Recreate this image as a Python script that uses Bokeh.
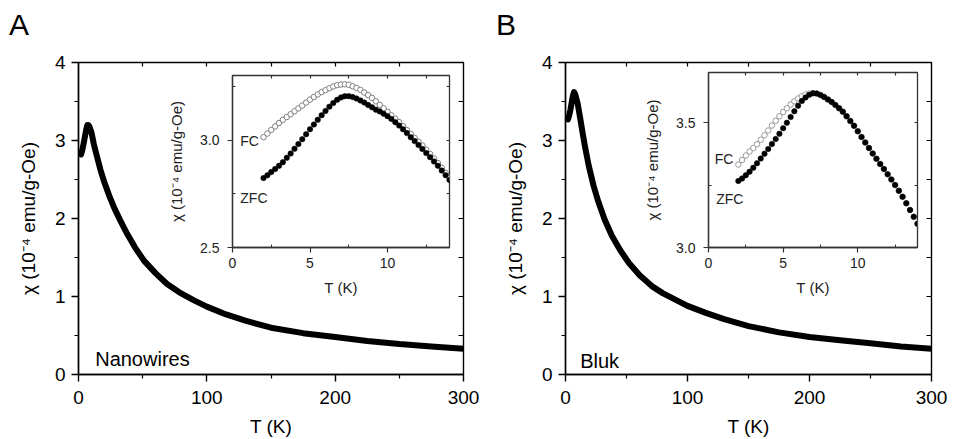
from bokeh.plotting import figure
from bokeh.layouts import row
from bokeh.models import (LinearAxis, FixedTicker, Label, Range1d, PrintfTickFormatter, Div)
from bokeh.embed import file_html
from bokeh.resources import INLINE

FONT = "Liberation Sans"

# ---------------- data ----------------
# Panel A main curve (Nanowires)
tA = [2, 3, 4, 5, 6, 7, 7.5, 8.5, 10, 12, 14.5, 17, 20, 24, 28, 33, 38, 44, 51, 60,
      69, 80, 90, 100, 115, 130, 150, 175, 200, 225, 250, 275, 300]
chiA = [2.82, 2.88, 2.96, 3.05, 3.14, 3.20, 3.20, 3.18, 3.11, 2.95, 2.79, 2.63, 2.47,
        2.29, 2.13, 1.96, 1.80, 1.63, 1.46, 1.30, 1.16, 1.04, 0.95, 0.87, 0.77, 0.69,
        0.60, 0.53, 0.48, 0.43, 0.39, 0.36, 0.33]

# Panel B main curve (Bluk)
tB = [2, 3, 4, 5, 6, 7, 8, 10, 12, 14, 16, 19, 23, 27, 32, 38, 45, 52, 61, 71, 80,
      90, 100, 115, 130, 150, 175, 200, 225, 250, 275, 300]
chiB = [3.27, 3.32, 3.39, 3.48, 3.57, 3.62, 3.59, 3.47, 3.29, 3.10, 2.92, 2.68, 2.42,
        2.21, 1.99, 1.78, 1.59, 1.43, 1.27, 1.13, 1.04, 0.96, 0.88, 0.79, 0.71, 0.62,
        0.54, 0.48, 0.44, 0.40, 0.36, 0.33]

# Inset temperatures (K)
t_in = [2.00, 2.25, 2.50, 2.75, 3.00, 3.25, 3.50, 3.75, 4.00, 4.25, 4.50, 4.75, 5.00,
        5.25, 5.50, 5.75, 6.00, 6.25, 6.50, 6.75, 7.00, 7.25, 7.50, 7.75, 8.00, 8.25,
        8.50, 8.75, 9.00, 9.25, 9.50, 9.75, 10.00, 10.25, 10.50, 10.75, 11.00, 11.25,
        11.50, 11.75, 12.00, 12.25, 12.50, 12.75, 13.00, 13.25, 13.50, 13.75, 14.00]

# Inset A
fcA = [3.013, 3.030, 3.047, 3.063, 3.079, 3.094, 3.107, 3.120, 3.134, 3.147, 3.160,
       3.174, 3.188, 3.200, 3.212, 3.223, 3.232, 3.241, 3.249, 3.255, 3.258, 3.259,
       3.257, 3.250, 3.242, 3.233, 3.221, 3.209, 3.196, 3.180, 3.163, 3.147, 3.131,
       3.115, 3.099, 3.083, 3.064, 3.046, 3.028, 3.010, 2.992, 2.974, 2.955, 2.935,
       2.914, 2.893, 2.871, 2.847, 2.824]
zfcA = [2.823, 2.836, 2.851, 2.865, 2.880, 2.897, 2.917, 2.937, 2.959, 2.981, 3.004,
        3.027, 3.050, 3.072, 3.094, 3.115, 3.135, 3.155, 3.172, 3.187, 3.198, 3.204,
        3.204, 3.200, 3.193, 3.184, 3.174, 3.163, 3.152, 3.141, 3.133, 3.122, 3.111,
        3.098, 3.083, 3.067, 3.050, 3.032, 3.013, 2.995, 2.977, 2.958, 2.939, 2.920,
        2.900, 2.880, 2.858, 2.836, 2.814]

# Inset B
fcB = [3.332, 3.350, 3.368, 3.384, 3.398, 3.413, 3.431, 3.449, 3.468, 3.488, 3.507,
       3.525, 3.542, 3.557, 3.572, 3.585, 3.596, 3.605, 3.612, 3.616, 3.617, 3.616,
       3.610, 3.602, 3.592, 3.582, 3.570, 3.557, 3.543, 3.525, 3.506, 3.487, 3.465,
       3.442, 3.420, 3.398, 3.376, 3.355, 3.334, 3.314, 3.293, 3.272, 3.250, 3.227,
       3.203, 3.177, 3.150, 3.123, 3.095]
zfcB = [3.266, 3.276, 3.289, 3.303, 3.319, 3.337, 3.356, 3.375, 3.394, 3.414, 3.434,
        3.455, 3.477, 3.499, 3.522, 3.545, 3.567, 3.586, 3.600, 3.611, 3.617, 3.616,
        3.610, 3.602, 3.592, 3.582, 3.570, 3.557, 3.543, 3.525, 3.506, 3.487, 3.465,
        3.442, 3.420, 3.398, 3.376, 3.355, 3.334, 3.314, 3.293, 3.272, 3.250, 3.227,
        3.203, 3.177, 3.150, 3.123, 3.095]

main_xticks = [0, 100, 200, 300]
main_xminor = [50, 150, 250]
main_yticks = [0, 1, 2, 3, 4]
main_yminor = [0.5, 1.5, 2.5, 3.5]
ylabel = "χ (10⁻⁴ emu/g-Oe)"
xlabel = "T (K)"
panel_letters = ["A", "B"]


def blank_axis(ticks, tick_len, color):
    ax = LinearAxis(ticker=FixedTicker(ticks=ticks, minor_ticks=[]),
                    major_tick_in=tick_len, major_tick_out=0,
                    major_label_overrides={t: "" for t in ticks},
                    major_label_text_font_size="0px",
                    major_label_standoff=0,
                    axis_line_color=None, major_tick_line_color=color,
                    major_tick_line_width=1.2, minor_tick_line_color=None)
    return ax


def main_fig(t, chi, label_text, label_x, label_y, fw, left, right):
    p = figure(frame_width=fw, frame_height=312, min_border_left=left,
               min_border_right=right, min_border_top=60, min_border_bottom=67,
               x_range=Range1d(0, 300), y_range=Range1d(0, 4), title=None,
               output_backend="svg", toolbar_location=None,
               x_axis_location=None, y_axis_location=None)
    p.grid.visible = False
    p.background_fill_color = "white"
    p.border_fill_color = "white"
    p.outline_line_color = "black"
    p.outline_line_width = 1.4

    xa = LinearAxis(ticker=FixedTicker(ticks=main_xticks, minor_ticks=main_xminor),
                    axis_label=xlabel)
    ya = LinearAxis(ticker=FixedTicker(ticks=main_yticks, minor_ticks=main_yminor),
                    axis_label=ylabel)
    for ax in (xa, ya):
        ax.axis_line_color = "black"
        ax.axis_line_width = 1.4
        ax.major_tick_out = 7
        ax.major_tick_in = 0
        ax.minor_tick_out = 4
        ax.minor_tick_in = 0
        ax.major_tick_line_width = 1.4
        ax.minor_tick_line_width = 1.2
        ax.major_tick_line_color = "black"
        ax.minor_tick_line_color = "black"
        ax.major_label_text_font = FONT
        ax.major_label_text_font_size = "19px"
        ax.major_label_text_color = "black"
        ax.axis_label_text_font = FONT
        ax.axis_label_text_font_size = "19px"
        ax.axis_label_text_font_style = "normal"
        ax.axis_label_text_color = "black"
    xa.major_label_standoff = 9
    xa.axis_label_standoff = 9
    ya.major_label_standoff = 6
    ya.axis_label_standoff = 13
    p.add_layout(xa, "below")
    p.add_layout(ya, "left")
    p.add_layout(blank_axis([50, 100, 150, 200, 250], 4, "black"), "above")
    p.add_layout(blank_axis([0.5, 1, 1.5, 2, 2.5, 3, 3.5], 5, "black"), "right")

    p.line(t, chi, line_color="black", line_width=6, line_join="round", line_cap="round")
    p.add_layout(Label(x=label_x, y=label_y, text=label_text, text_font=FONT,
                       text_font_size="20px", text_baseline="alphabetic",
                       text_color="black"))
    return p


def inset_fig(fc, zfc, y0, y1, yticks, yminor, rticks, fw, fh, left,
              fc_lab, zfc_lab, fc_color):
    p = figure(frame_width=fw, frame_height=fh, min_border_left=left,
               min_border_right=8, min_border_top=62, min_border_bottom=62,
               x_range=Range1d(0, 14), y_range=Range1d(y0, y1), title=None,
               output_backend="svg", toolbar_location=None,
               x_axis_location=None, y_axis_location=None)
    p.grid.visible = False
    p.background_fill_color = "white"
    p.border_fill_color = None
    p.outline_line_color = "#333333"
    p.outline_line_width = 1.3

    xa = LinearAxis(ticker=FixedTicker(ticks=[0, 5, 10], minor_ticks=[2.5, 7.5, 12.5]),
                    axis_label=xlabel)
    ya = LinearAxis(ticker=FixedTicker(ticks=yticks, minor_ticks=yminor),
                    axis_label=ylabel, formatter=PrintfTickFormatter(format="%.1f"))
    for ax in (xa, ya):
        ax.axis_line_color = "#333333"
        ax.axis_line_width = 1.3
        ax.major_tick_out = 5
        ax.major_tick_in = 0
        ax.minor_tick_out = 0
        ax.minor_tick_in = 3
        ax.major_tick_line_color = "#333333"
        ax.minor_tick_line_color = "#333333"
        ax.major_tick_line_width = 1.2
        ax.minor_tick_line_width = 1.0
        ax.major_label_text_font = FONT
        ax.major_label_text_font_size = "14px"
        ax.major_label_text_color = "#222222"
        ax.axis_label_text_font = FONT
        ax.axis_label_text_font_size = "15px"
        ax.axis_label_text_font_style = "normal"
        ax.axis_label_text_color = "#222222"
    xa.major_label_standoff = 5
    xa.axis_label_standoff = 8
    ya.major_label_standoff = 8
    ya.axis_label_standoff = 12
    p.add_layout(xa, "below")
    p.add_layout(ya, "left")
    p.add_layout(blank_axis([2.5, 5, 7.5, 10, 12.5], 3, "#333333"), "above")
    p.add_layout(blank_axis(rticks, 3, "#333333"), "right")

    p.scatter(t_in, fc, marker="circle", size=5.5, fill_color="white",
              line_color=fc_color, line_width=1.0)
    p.scatter(t_in, zfc, marker="circle", size=5.5, fill_color="black",
              line_color="black", line_width=0.5)
    for (x, y, txt) in (fc_lab + ("FC",), zfc_lab + ("ZFC",)):
        p.add_layout(Label(x=x, y=y, text=txt, text_font=FONT, text_font_size="14px",
                           text_align="right", text_baseline="alphabetic",
                           text_color="#222222"))
    return p


def letter_div(letter, left, top):
    return Div(text=letter, width=40, height=40, margin=0,
               styles={"position": "absolute", "left": f"{left}px", "top": f"{top}px",
                       "font-family": FONT, "font-size": "30px", "line-height": "1",
                       "color": "black"})


figA = main_fig(tA, chiA, "Nanowires", 13, 0.2, 385, 78, 17)
figB = main_fig(tB, chiB, "Bluk", 12, 0.17, 366, 85, 39)

insA = inset_fig(fcA, zfcA, 2.5, 3.3, [2.5, 3.0], [2.75, 3.25], [2.75, 3.0, 3.25],
                 217, 172, 72, (1.7, 2.995), (2.26, 2.731), "#808080")
insB = inset_fig(fcB, zfcB, 3.0, 3.7, [3.0, 3.5], [3.25], [3.25, 3.5],
                 209, 175, 73, (1.67, 3.355), (2.34, 3.196), "#9a9a9a")

insA.styles = {"position": "absolute", "left": "160px", "top": "13px"}
insB.styles = {"position": "absolute", "left": "635px", "top": "10px"}

letA = letter_div(panel_letters[0], 9, 10)
letB = letter_div(panel_letters[1], 496, 10)

p = row(figA, figB, insA, insB, letA, letB)

open("out.html", "w").write(file_html(p, INLINE))
